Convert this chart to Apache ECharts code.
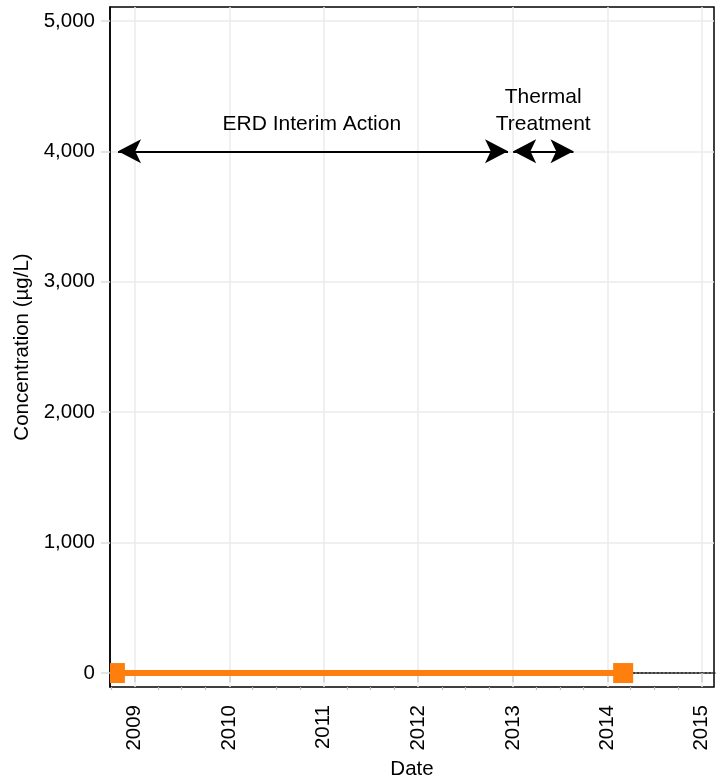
<!DOCTYPE html>
<html>
<head>
<meta charset="utf-8">
<script src="https://cdn.jsdelivr.net/npm/echarts@6/dist/echarts.min.js"></script>
<style>
  html, body { margin: 0; padding: 0; background: #fff; }
  #chart { width: 724px; height: 776px; }
</style>
</head>
<body>
<div id="chart"></div>
<script>
// Sampling record for the well (concentration in µg/L)
const sampleDates = ['2008-10-16', '2014-03-03'];
const concentration = [0, 0];

// Dotted projection after the last sample
const projectionDates = ['2014-03-03', '2015-06-30'];
const projectionValues = [0, 0];

// Remedial phases drawn as double-headed arrows at a fixed level
const phaseNames = ['ERD Interim Action', 'Thermal\nTreatment'];
const phaseStart = ['2008-10-28', '2013-01-02'];
const phaseEnd = ['2012-12-13', '2013-08-23'];
const phaseLevel = 4000;
const phaseLabelDates = ['2010-11-16', '2013-04-28'];
const phaseLabelLevels = [4207, 4310];

// Axis ranges and tick labels
const xRange = ['2008-09-27', '2015-02-17'];
const yearTicks = [2009, 2010, 2011, 2012, 2013, 2014, 2015];
const yTicks = [0, 1000, 2000, 3000, 4000, 5000];
const yRange = [-107, 5107];

const t = d => Date.parse(d);
const yearValues = yearTicks.map(y => t(y + '-01-01'));
const quarterValues = [];
[2008].concat(yearTicks).forEach(y => {
  ['-04-01', '-07-01', '-10-01'].forEach(m => quarterValues.push(t(y + m)));
});

const FONT = 'Liberation Sans';
const ORANGE = '#ff7f0e';
const LABEL_SIZE = 20.5;

const chart = echarts.init(document.getElementById('chart'), null, { renderer: 'canvas' });

chart.setOption({
  animation: false,
  backgroundColor: '#fff',
  grid: {
    left: 110, top: 7, right: 10, bottom: 89,
    outerBoundsMode: 'none', containLabel: false,
    show: true, borderColor: '#000', borderWidth: 1.5, backgroundColor: 'transparent'
  },
  xAxis: [{
    type: 'value',
    min: t(xRange[0]), max: t(xRange[1]),
    name: 'Date', nameLocation: 'middle', nameGap: 71,
    nameTextStyle: { fontFamily: FONT, fontSize: LABEL_SIZE, color: '#000' },
    axisLine: { show: true, lineStyle: { color: '#000', width: 1.5 } },
    axisTick: { show: true, customValues: yearValues, length: 9, lineStyle: { color: '#cfcfcf', width: 1.5 } },
    axisLabel: {
      customValues: yearValues, rotate: 90, margin: 18,
      fontFamily: FONT, fontSize: LABEL_SIZE, color: '#000',
      formatter: v => String(new Date(v).getUTCFullYear())
    },
    splitLine: { show: true, lineStyle: { color: '#ebebeb', width: 1.5 } }
  }, {
    type: 'value', gridIndex: 0, position: 'bottom',
    min: t(xRange[0]), max: t(xRange[1]),
    axisLine: { show: false },
    axisTick: { show: true, customValues: quarterValues, length: 3, lineStyle: { color: '#bdbdbd', width: 1.2 } },
    axisLabel: { show: false },
    splitLine: { show: false }
  }],
  yAxis: {
    type: 'value',
    min: yRange[0], max: yRange[1],
    name: 'Concentration (µg/L)', nameLocation: 'middle', nameGap: 76,
    nameTextStyle: { fontFamily: FONT, fontSize: LABEL_SIZE, color: '#000' },
    axisLine: { show: true, lineStyle: { color: '#000', width: 1.5 } },
    axisTick: { show: true, customValues: yTicks, length: 9, lineStyle: { color: '#dcdcdc', width: 1.5 } },
    axisLabel: {
      customValues: yTicks, margin: 15,
      fontFamily: FONT, fontSize: LABEL_SIZE, color: '#000',
      formatter: v => v.toLocaleString('en-US')
    },
    splitLine: { show: true, lineStyle: { color: '#ebebeb', width: 1.5 } }
  },
  series: [
    {
      // projection after the last sample
      type: 'line',
      data: projectionDates.map((d, i) => [t(d), projectionValues[i]]),
      symbol: 'none',
      clip: true,
      lineStyle: { color: '#8a8a8a', width: 1.5, type: [1.5, 2.5] },
      z: 2
    },
    {
      // measured concentrations
      type: 'line',
      data: sampleDates.map((d, i) => [t(d), concentration[i]]),
      symbol: 'none',
      clip: true,
      lineStyle: { color: ORANGE, width: 6 },
      z: 3
    },
    {
      // square sample markers, clipped to the plotting area
      type: 'custom',
      data: sampleDates.map((d, i) => [t(d), concentration[i]]),
      renderItem: (params, api) => {
        const p = api.coord([api.value(0), api.value(1)]);
        const s = 20;
        const shape = echarts.graphic.clipRectByRect(
          { x: p[0] - s / 2, y: p[1] - s / 2, width: s, height: s },
          params.coordSys
        );
        return shape && { type: 'rect', shape, style: { fill: ORANGE } };
      },
      z: 4
    },
    {
      // remedial phase arrows
      type: 'line',
      data: [],
      markLine: {
        silent: true,
        symbol: ['arrow', 'arrow'],
        symbolSize: [18, 23],
        lineStyle: { color: '#000', width: 2, type: 'solid', opacity: 1 },
        label: { show: false },
        data: phaseNames.map((n, i) => [
          { coord: [t(phaseStart[i]), phaseLevel] },
          { coord: [t(phaseEnd[i]), phaseLevel] }
        ])
      },
      z: 5
    },
    {
      // phase names
      type: 'scatter',
      symbolSize: 0,
      itemStyle: { opacity: 1 },
      data: phaseNames.map((n, i) => ({ value: [t(phaseLabelDates[i]), phaseLabelLevels[i]], name: n })),
      label: {
        show: true, position: 'inside', opacity: 1,
        formatter: p => p.name,
        fontFamily: FONT, fontSize: 21, lineHeight: 27, color: '#000', align: 'center'
      },
      z: 6
    }
  ]
});
</script>
</body>
</html>
